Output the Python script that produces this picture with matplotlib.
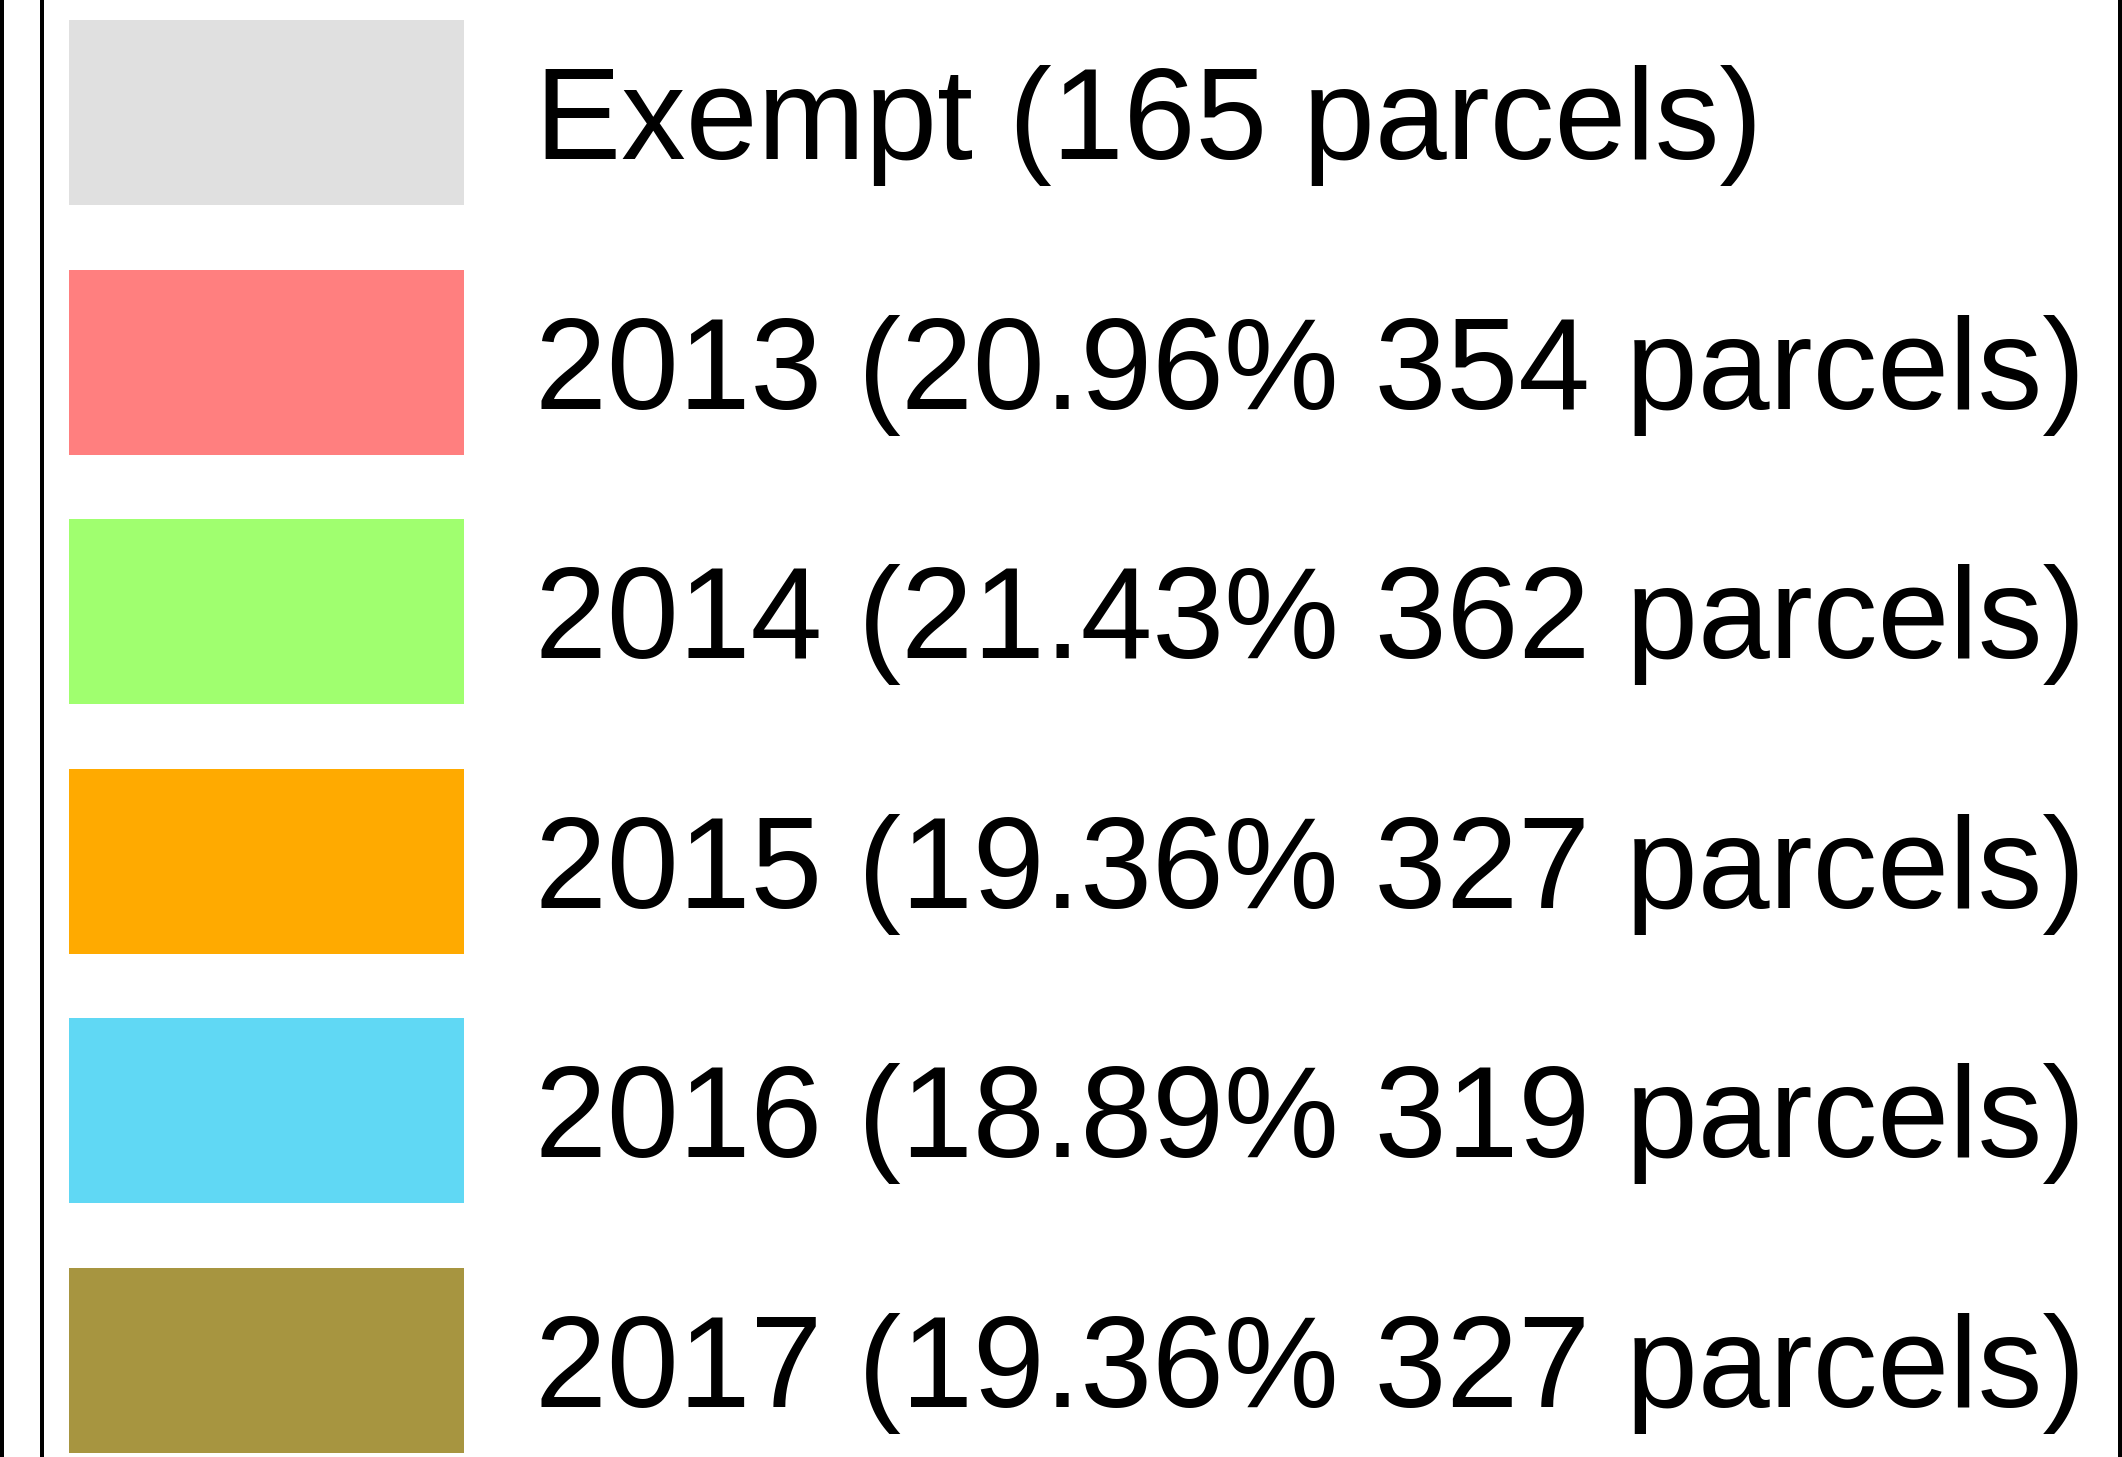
import matplotlib
matplotlib.use('Agg')
import matplotlib.pyplot as plt

# ---------------------------------------------------------------------------
# Data
# ---------------------------------------------------------------------------
categories = ['Exempt', '2013', '2014', '2015', '2016', '2017']
shares_pct = [None, 20.96, 21.43, 19.36, 18.89, 19.36]
parcel_counts = [165, 354, 362, 327, 319, 327]
colors = ['#e0e0e0', '#ff7f7f', '#a0ff6f', '#ffaa00', '#60d8f4', '#a79540']

# ---------------------------------------------------------------------------
# Layout (pixels)
# ---------------------------------------------------------------------------
W, H = 2122, 1457
DPI = 100
SW_LEFT, SW_WIDTH, SW_HEIGHT = 69, 395, 185
ROW_TOP, ROW_PITCH = 20, 249.6
TEXT_X, BASELINE_OFFSET = 535, 139
FONT_PT = 93


def make_label(cat, pct, n):
    if pct is None:
        return f'{cat} ({n} parcels)'
    return f'{cat} ({pct:.2f}% {n} parcels)'


def main() -> None:
    plt.rcParams['font.family'] = ['Liberation Sans', 'DejaVu Sans']
    fig = plt.figure(figsize=(W / DPI, H / DPI), dpi=DPI)
    ax = fig.add_axes([0, 0, 1, 1])
    ax.set_xlim(0, W)
    ax.set_ylim(H, 0)
    ax.axis('off')

    tops = [ROW_TOP + i * ROW_PITCH for i in range(len(categories))]
    ax.bar([SW_LEFT] * len(categories), [SW_HEIGHT] * len(categories),
           width=SW_WIDTH, bottom=tops, align='edge', color=colors,
           linewidth=0)

    for top, cat, pct, n in zip(tops, categories, shares_pct, parcel_counts):
        ax.text(TEXT_X, top + BASELINE_OFFSET, make_label(cat, pct, n),
                fontsize=FONT_PT, color='black', va='baseline', ha='left')

    # frame fragments visible at the crop edges
    lw = 4 * 72 / DPI
    for x in (1.5, 42, 2120):
        ax.axvline(x, color='black', linewidth=lw)

    fig.savefig('out.png', dpi=DPI)
    plt.close(fig)


if __name__ == '__main__':
    main()
